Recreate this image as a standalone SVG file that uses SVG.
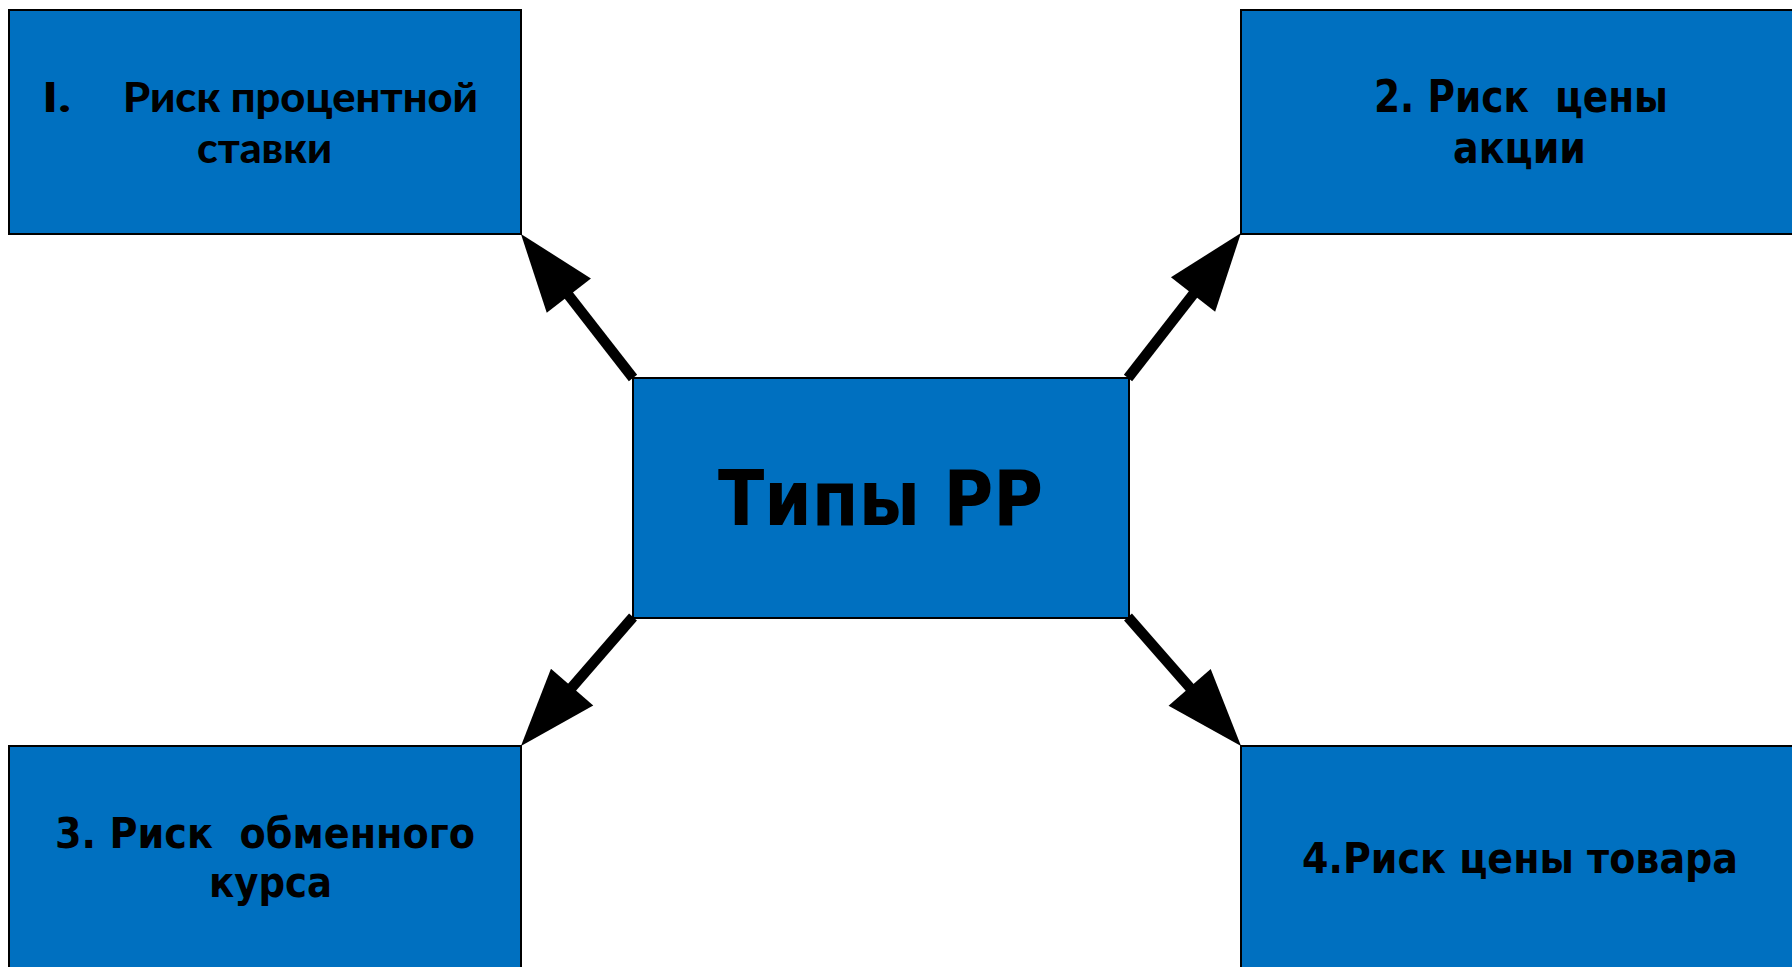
<svg xmlns="http://www.w3.org/2000/svg" width="1792" height="967" viewBox="0 0 1792 967">
  <style>
    .box { fill: #0070C0; stroke: #000000; stroke-width: 2; }
    .lbl { font-family: "DejaVu Sans", Tahoma, Verdana, sans-serif; font-weight: bold; fill: #000000; white-space: pre; }
    .lbl1 { font-family: Lato, "Open Sans", sans-serif; font-weight: 900; fill: #000000; white-space: pre; }
    .conn { stroke: #000000; stroke-width: 10.5; fill: none; marker-end: url(#head); }
  </style>
  <defs>
    <marker id="head" markerUnits="userSpaceOnUse" markerWidth="80" markerHeight="60" refX="18" refY="28" orient="auto" overflow="visible">
      <path d="M0,0 L78,28 L0,56 Z" fill="#000000"/>
    </marker>
  </defs>
  <rect width="1792" height="967" fill="#ffffff"/>

  <g id="node-center">
    <rect class="box" x="633" y="378" width="496" height="240"/>
    <text class="lbl" x="718" y="525" font-size="76" textLength="325" lengthAdjust="spacingAndGlyphs">Типы РР</text>
  </g>

  <g id="node-1">
    <rect class="box" x="9" y="10" width="512" height="224"/>
    <text class="lbl1" y="112" font-size="41"><tspan x="42" textLength="29" lengthAdjust="spacingAndGlyphs">I.</tspan><tspan x="123" textLength="355" lengthAdjust="spacingAndGlyphs">Риск процентной</tspan></text>
    <text class="lbl1" x="197" y="163" font-size="41" textLength="135" lengthAdjust="spacingAndGlyphs">ставки</text>
  </g>

  <g id="node-2">
    <rect class="box" x="1241" y="10" width="560" height="224"/>
    <text class="lbl" x="1374" y="112" font-size="44" textLength="294" lengthAdjust="spacingAndGlyphs">2. Риск  цены</text>
    <text class="lbl" x="1453" y="163" font-size="44" textLength="133" lengthAdjust="spacingAndGlyphs">акции</text>
  </g>

  <g id="node-3">
    <rect class="box" x="9" y="746" width="512" height="230"/>
    <text class="lbl" x="55" y="848" font-size="42" textLength="420" lengthAdjust="spacingAndGlyphs">3. Риск  обменного</text>
    <text class="lbl" x="209" y="897" font-size="42" textLength="123" lengthAdjust="spacingAndGlyphs">курса</text>
  </g>

  <g id="node-4">
    <rect class="box" x="1241" y="746" width="560" height="230"/>
    <text class="lbl" x="1302" y="873" font-size="42" textLength="436" lengthAdjust="spacingAndGlyphs">4.Риск цены товара</text>
  </g>

  <g id="connectors">
    <line class="conn" x1="633" y1="378" x2="557.8" y2="281.4"/>
    <line class="conn" x1="1128" y1="378" x2="1204.1" y2="280.3"/>
    <line class="conn" x1="633" y1="617" x2="560.3" y2="700.7"/>
    <line class="conn" x1="1128" y1="617" x2="1201.5" y2="700.9"/>
  </g>
</svg>
